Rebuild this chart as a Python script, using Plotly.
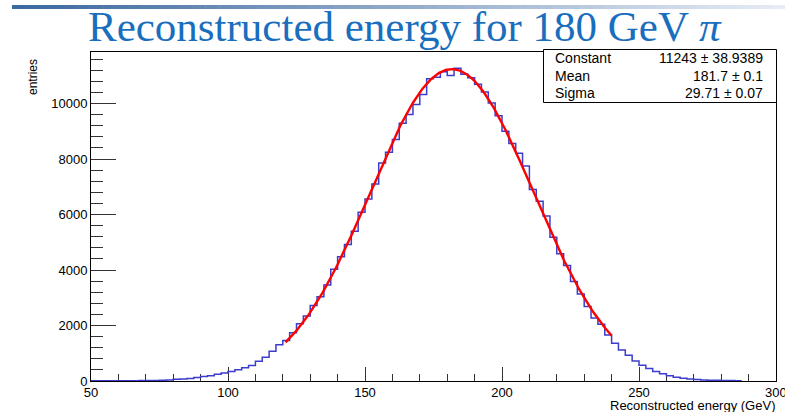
import numpy as np
import plotly.graph_objects as go

# ---- data ----
bin_low = 50.0
bin_width = 2.5
counts = [
    5, 6, 7, 8, 9, 10, 12, 14, 16, 20,                         # 50-75
    30, 38, 60, 72, 90, 130, 165, 190, 245, 285,                # 75-100
    345, 405, 475, 560, 715, 860, 1075, 1310, 1460, 1735,       # 100-125
    2060, 2340, 2720, 3040, 3460, 4030, 4480, 4920, 5400, 6080, # 125-150
    6560, 7100, 7860, 8250, 8710, 9290, 9610, 9970, 10330, 10900,   # 150-175
    10950, 11150, 11010, 11270, 11060, 10930, 10700, 10420, 10020, 9560,  # 175-200
    9000, 8560, 8210, 7750, 6900, 6480, 5950, 5180, 4590, 4160, # 200-225
    3590, 3140, 2690, 2270, 2050, 1660, 1360, 1120, 930, 720,   # 225-250
    570, 450, 340, 260, 185, 135, 98, 72, 50, 38,               # 250-275
    30, 24, 20, 16, 12,                                         # 275-287.5
]
fit_constant = 11243
fit_mean = 181.7
fit_sigma = 29.71
fit_range = [121.0, 240.0]
stats_labels = ["Constant", "Mean", "Sigma"]
stats_values = ["11243 ± 38.9389", "181.7 ± 0.1", "29.71 ± 0.07"]
x_ticks = [50, 100, 150, 200, 250, 300]
y_ticks = [0, 2000, 4000, 6000, 8000, 10000]

# ---- geometry (pixels) ----
W, H = 785, 412
L, R, T, B = 91, 776, 52, 381

def px(x):
    return (x - L) / (R - L)

def py(y):
    return (B - y) / (B - T)

edges = [bin_low + i * bin_width for i in range(len(counts) + 1)]
hx = edges
hy = counts + [counts[-1]]

fx = np.linspace(fit_range[0], fit_range[1], 300)
fy = fit_constant * np.exp(-0.5 * ((fx - fit_mean) / fit_sigma) ** 2)

fig = go.Figure()
fig.add_trace(go.Scatter(x=hx, y=hy, mode="lines", line_shape="hv",
                         line=dict(color="rgb(60,60,205)", width=1.5),
                         hoverinfo="skip", showlegend=False))
fig.add_trace(go.Scatter(x=fx, y=fy, mode="lines",
                         line=dict(color="rgb(255,0,0)", width=2.4),
                         hoverinfo="skip", showlegend=False))

shapes = []
# gradient bar at top
nseg = 60
x0, x1 = 12, 785
for i in range(nseg):
    t = i / (nseg - 1)
    r = int(60 + (230 - 60) * t)
    g = int(105 + (236 - 105) * t)
    b = int(160 + (245 - 160) * t)
    sx0 = x0 + (x1 - x0) * i / nseg
    sx1 = x0 + (x1 - x0) * (i + 1) / nseg + 0.5
    shapes.append(dict(type="rect", xref="paper", yref="paper",
                       x0=px(sx0), x1=px(sx1), y0=py(9), y1=py(5),
                       line=dict(width=0), fillcolor=f"rgb({r},{g},{b})", layer="above"))
# stats box
shapes.append(dict(type="rect", xref="paper", yref="paper",
                   x0=px(543.5), x1=px(776.5), y0=py(102.5), y1=py(49.5),
                   line=dict(color="black", width=1), fillcolor="white", layer="above"))

annotations = [
    dict(text="Reconstructed energy for 180 GeV <i>π</i>", xref="paper", yref="paper",
         x=px(405), y=py(27), xanchor="center", yanchor="middle", showarrow=False,
         font=dict(family="Liberation Serif", size=43, color="rgb(25,110,190)")),
    dict(text="entries", xref="paper", yref="paper", x=px(33), y=py(77),
         xanchor="center", yanchor="middle", textangle=-90, showarrow=False,
         font=dict(family="Liberation Sans", size=12, color="black")),
    dict(text="Reconstructed energy (GeV)", xref="paper", yref="paper", x=px(777), y=py(405.5),
         xanchor="right", yanchor="middle", showarrow=False,
         font=dict(family="Liberation Sans", size=13, color="black")),
    # last x tick label sits on the window edge (cut off as in the reference)
    dict(text=str(x_ticks[-1]), xref="x", yref="paper", x=x_ticks[-1], y=py(392),
         xanchor="center", yanchor="middle", showarrow=False,
         font=dict(family="Liberation Sans", size=13, color="black")),
]
rows_y = [58, 76, 93]
for lab, val, yy in zip(stats_labels, stats_values, rows_y):
    annotations.append(dict(text=lab, xref="paper", yref="paper", x=px(553), y=py(yy),
                            xanchor="left", yanchor="middle", showarrow=False,
                            font=dict(family="Liberation Sans", size=14, color="black")))
    annotations.append(dict(text=val, xref="paper", yref="paper", x=px(765), y=py(yy),
                            xanchor="right", yanchor="middle", showarrow=False,
                            font=dict(family="Liberation Sans", size=14, color="black")))

fig.update_layout(
    width=W, height=H,
    margin=dict(l=L, r=W - R, t=T, b=H - B, pad=0, autoexpand=False),
    paper_bgcolor="white", plot_bgcolor="white",
    shapes=shapes, annotations=annotations,
    font=dict(family="Liberation Sans", size=13, color="black"),
    xaxis=dict(range=[50, 300], tickvals=x_ticks,
               ticktext=[str(v) for v in x_ticks[:-1]] + [""],
               ticks="inside", ticklen=14, tickwidth=1, tickcolor="#333",
               minor=dict(dtick=10, ticks="inside", ticklen=7, tickcolor="#333", tick0=50),
               showline=True, linecolor="black", linewidth=1, mirror=True,
               showgrid=False, zeroline=False, layer="below traces",
               ticklabelstandoff=-1,
               tickfont=dict(family="Liberation Sans", size=13, color="black")),
    yaxis=dict(range=[0, (B - T) / 0.02774 * 1.0], tickvals=y_ticks,
               ticktext=[str(v) for v in y_ticks],
               ticks="inside", ticklen=25, tickwidth=1, tickcolor="#333",
               minor=dict(dtick=400, ticks="inside", ticklen=12, tickcolor="#333", tick0=0),
               showline=True, linecolor="black", linewidth=1, mirror=True,
               showgrid=False, zeroline=False, layer="below traces",
               tickfont=dict(family="Liberation Sans", size=13, color="black")),
)

fig.write_html("out.html")
